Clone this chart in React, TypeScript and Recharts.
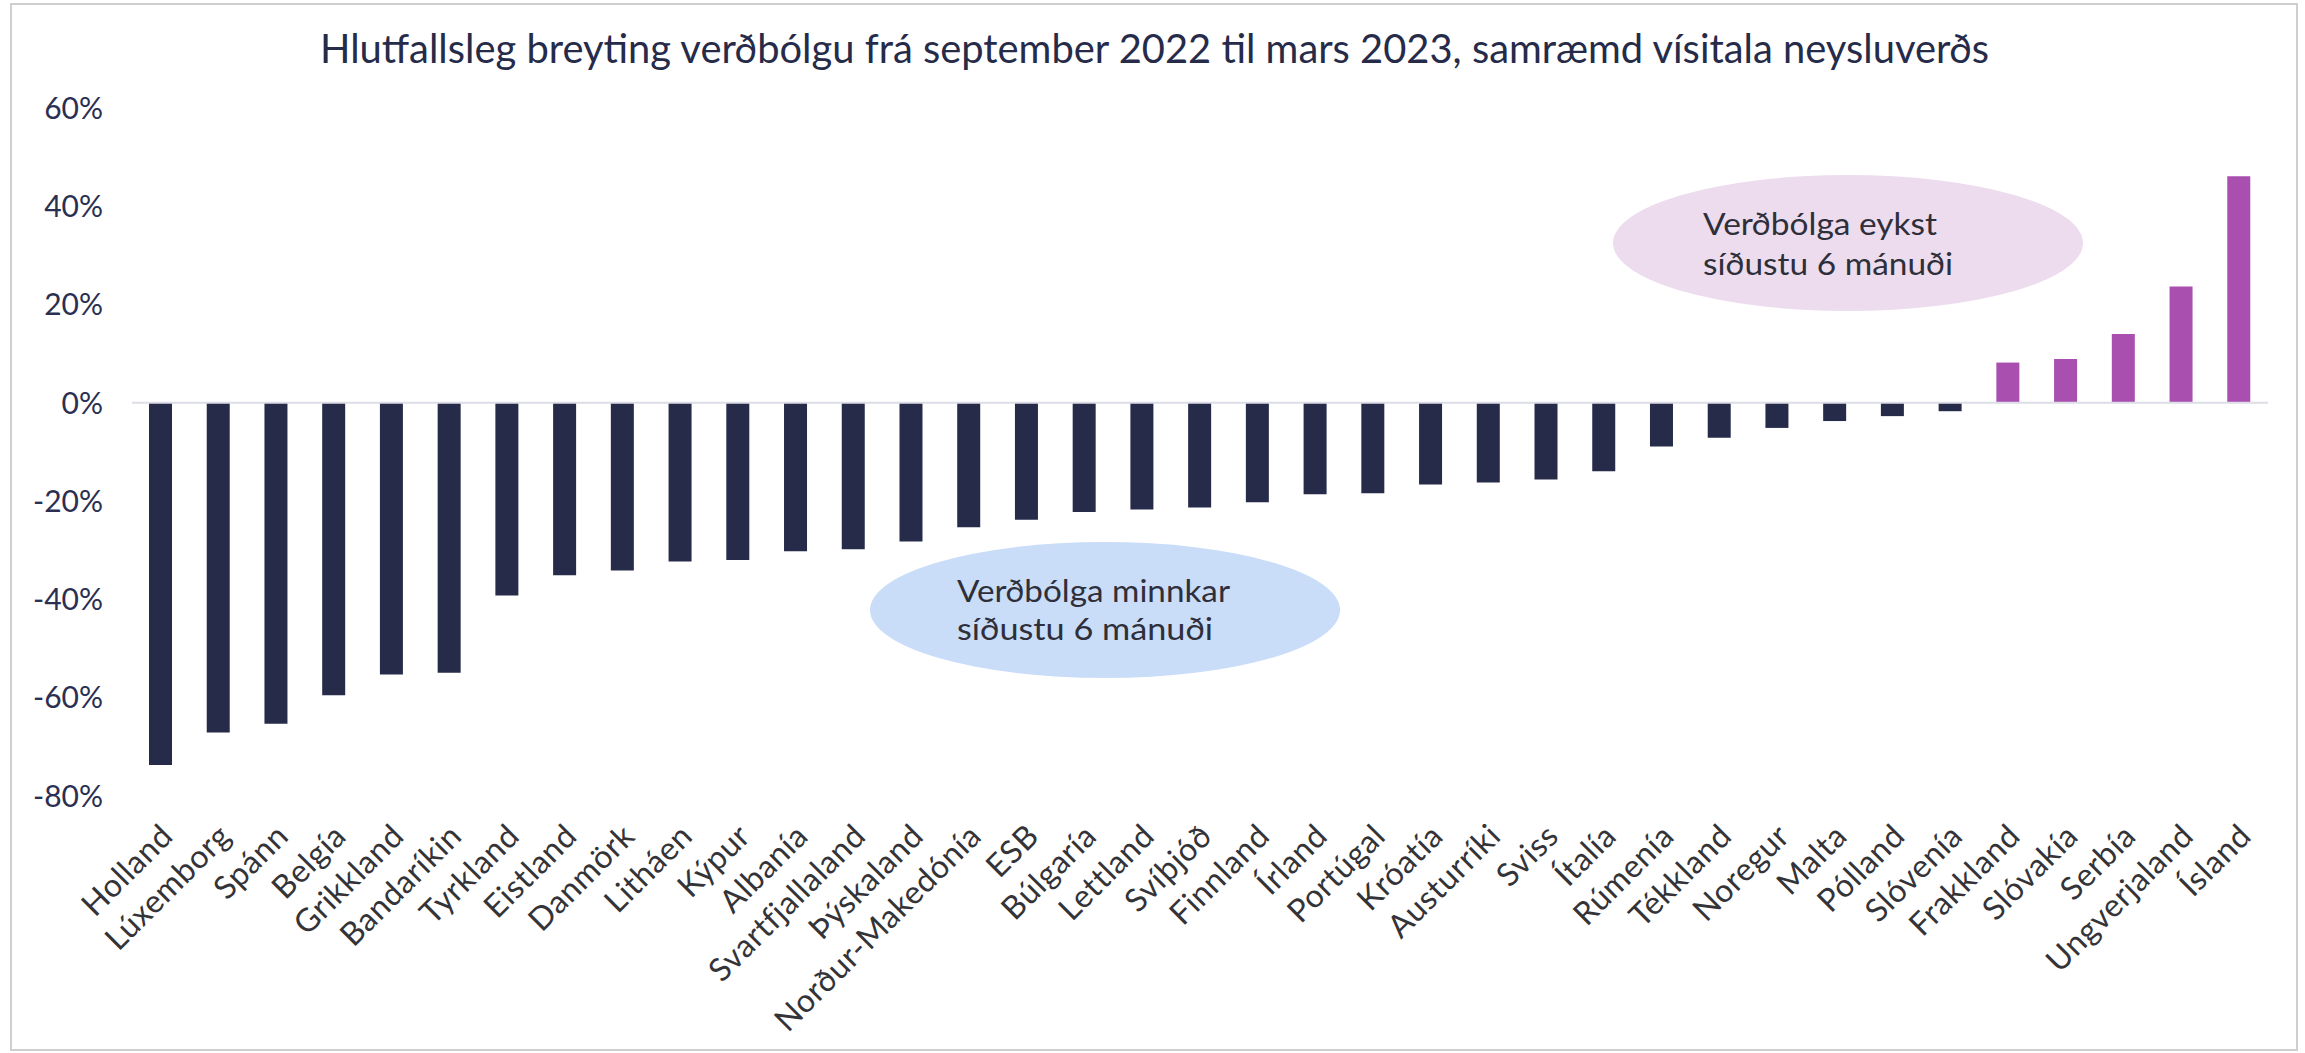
import React from "react";
import { BarChart, Bar, XAxis, YAxis, Cell, ReferenceLine } from "recharts";

const countries = [
  "Holland", "Lúxemborg", "Spánn", "Belgía", "Grikkland", "Bandaríkin", "Tyrkland",
  "Eistland", "Danmörk", "Litháen", "Kýpur", "Albanía", "Svartfjallaland", "Þýskaland",
  "Norður-Makedónía", "ESB", "Búlgaría", "Lettland", "Svíþjóð", "Finnland", "Írland",
  "Portúgal", "Króatía", "Austurríki", "Sviss", "Ítalía", "Rúmenía", "Tékkland",
  "Noregur", "Malta", "Pólland", "Slóvenía", "Frakkland", "Slóvakía", "Serbía",
  "Ungverjaland", "Ísland",
];

const changes = [
  -73.7, -67.1, -65.3, -59.5, -55.3, -54.9, -39.2,
  -35.1, -34.1, -32.3, -32.0, -30.2, -29.8, -28.2,
  -25.3, -23.8, -22.2, -21.7, -21.3, -20.2, -18.6,
  -18.4, -16.6, -16.2, -15.6, -13.9, -8.9, -7.1,
  -5.1, -3.7, -2.7, -1.7, 8.2, 8.9, 14.0,
  23.7, 46.1,
];

const yTicks = [-80, -60, -40, -20, 0, 20, 40, 60];

const title =
  "Hlutfallsleg breyting verðbólgu frá september 2022 til mars 2023, samræmd vísitala neysluverðs";
const noteDown = ["Verðbólga minnkar", "síðustu 6 mánuði"];
const noteUp = ["Verðbólga eykst", "síðustu 6 mánuði"];

const NAVY = "#262b4a";
const PURPLE = "#a84fb0";
const FONT = "Lato, 'Open Sans', sans-serif";

const data = countries.map((name, i) => ({ name, value: changes[i] }));

const XTick = (props: any) => {
  const { x, y, payload } = props;
  const ax = x + 14;
  const ay = y + 42;
  return (
    <text
      x={ax}
      y={ay}
      transform={`rotate(-45 ${ax} ${ay})`}
      textAnchor="end"
      fontFamily={FONT}
      fontSize={32}
      letterSpacing={0.6}
      fill="#333338"
    >
      {payload.value}
    </text>
  );
};

export default function App() {
  return (
    <div
      style={{
        position: "absolute",
        left: 0,
        top: 0,
        width: 2305,
        height: 1053,
        background: "#ffffff",
      }}
    >
      <svg
        width={2305}
        height={1053}
        style={{ position: "absolute", left: 0, top: 0 }}
      >
        <rect x={11} y={4} width={2286} height={1046} fill="#ffffff" stroke="#cfcfcf" strokeWidth={2} />
        <text
          x={320}
          y={63}
          textLength={1669}
          lengthAdjust="spacingAndGlyphs"
          fontFamily={FONT}
          fontSize={40}
          fill={NAVY}
        >
          {title}
        </text>
        <ellipse cx={1105} cy={610} rx={235} ry={68} fill="#c9dcf8" />
        <text x={957} y={602} textLength={273} lengthAdjust="spacingAndGlyphs" fontFamily={FONT} fontSize={31} fill="#2e2f3a">
          {noteDown[0]}
        </text>
        <text x={957} y={640} textLength={256} lengthAdjust="spacingAndGlyphs" fontFamily={FONT} fontSize={31} fill="#2e2f3a">
          {noteDown[1]}
        </text>
        <ellipse cx={1848} cy={243} rx={235} ry={68} fill="#ecdcee" />
        <text x={1703} y={235} textLength={234} lengthAdjust="spacingAndGlyphs" fontFamily={FONT} fontSize={31} fill="#2e2f3a">
          {noteUp[0]}
        </text>
        <text x={1703} y={275} textLength={250} lengthAdjust="spacingAndGlyphs" fontFamily={FONT} fontSize={31} fill="#2e2f3a">
          {noteUp[1]}
        </text>
      </svg>
      <div style={{ position: "absolute", left: 0, top: 0 }}>
        <BarChart
          width={2305}
          height={1053}
          data={data}
          margin={{ top: 108, right: 37, left: 0, bottom: 0 }}
        >
          <XAxis
            dataKey="name"
            interval={0}
            tickLine={false}
            axisLine={false}
            tickSize={0}
            tickMargin={0}
            height={257}
            tick={<XTick />}
          />
          <YAxis
            type="number"
            domain={[-80, 60]}
            ticks={yTicks}
            width={132}
            tickLine={false}
            axisLine={false}
            tickSize={0}
            tickMargin={29}
            tickFormatter={(v: number) => `${v}%`}
            tick={{ fontFamily: FONT, fontSize: 30, fill: "#2b3052" }}
          />
          <ReferenceLine y={0} stroke="#dcdde6" strokeWidth={2} />
          <Bar dataKey="value" barSize={23} isAnimationActive={false}>
            {data.map((d, i) => (
              <Cell key={i} fill={d.value < 0 ? NAVY : PURPLE} />
            ))}
          </Bar>
        </BarChart>
      </div>
    </div>
  );
}
